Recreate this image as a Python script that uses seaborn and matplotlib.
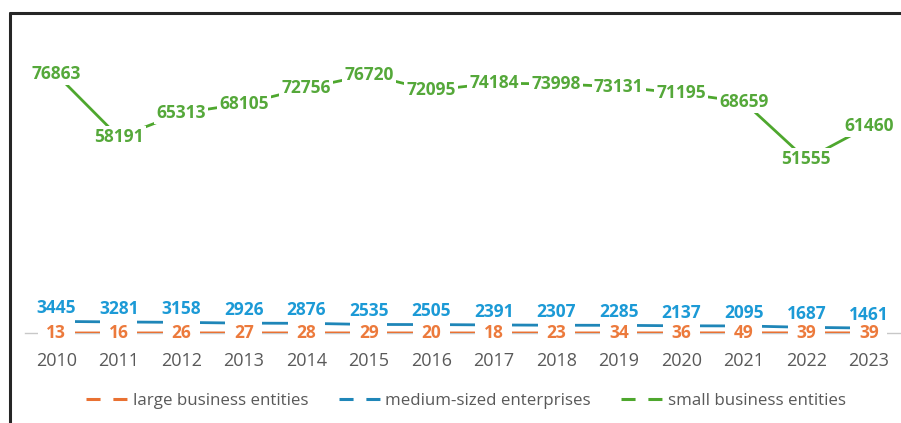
import matplotlib
matplotlib.use("Agg")
import matplotlib.pyplot as plt
from matplotlib.lines import Line2D
import seaborn as sns
import pandas as pd

years = [2010, 2011, 2012, 2013, 2014, 2015, 2016,
         2017, 2018, 2019, 2020, 2021, 2022, 2023]
large = [13, 16, 26, 27, 28, 29, 20, 18, 23, 34, 36, 49, 39, 39]
medium = [3445, 3281, 3158, 2926, 2876, 2535, 2505,
          2391, 2307, 2285, 2137, 2095, 1687, 1461]
small = [76863, 58191, 65313, 68105, 72756, 76720, 72095,
         74184, 73998, 73131, 71195, 68659, 51555, 61460]
series_names = ["large business entities", "medium-sized enterprises",
                "small business entities"]

line_colors = {"large business entities": "#E97132",
               "medium-sized enterprises": "#1F86B8",
               "small business entities": "#4EA72E"}
label_colors = {"large business entities": "#EC7A3C",
                "medium-sized enterprises": "#1C9AD6",
                "small business entities": "#55A83A"}

sns.set_theme(style="white")
plt.rcParams["font.family"] = ["Open Sans", "DejaVu Sans"]

df = pd.DataFrame({
    "year": years * 3,
    "value": large + medium + small,
    "series": [series_names[0]] * len(years)
              + [series_names[1]] * len(years)
              + [series_names[2]] * len(years),
})

fig = plt.figure(figsize=(9.01, 4.23), dpi=100)
ax = fig.add_axes([25 / 901, 1 - 333 / 423, 875 / 901, 303 / 423])

sns.lineplot(data=df, x="year", y="value", hue="series",
             hue_order=series_names, palette=line_colors,
             linewidth=2.0, legend=False, ax=ax, zorder=2)

ax.set_xlim(2009.5, 2023.5)
ax.set_ylim(0, 90000)
ax.set_xticks(years)
ax.set_xticklabels([str(y) for y in years])
ax.set_yticks([])
ax.set_xlabel("")
ax.set_ylabel("")
for side in ("top", "left", "right"):
    ax.spines[side].set_visible(False)
ax.spines["bottom"].set_color("#C8C8C8")
ax.spines["bottom"].set_linewidth(1.0)
ax.spines["bottom"].set_zorder(1)
ax.tick_params(axis="x", length=0, pad=14, labelsize=13, labelcolor="#595959")

# value labels: small and large centred on the points, medium above them
for x, v in zip(years, small):
    ax.text(x, v, f"{v}", ha="center", va="center", fontsize=12.5,
            fontweight="bold", color=label_colors[series_names[2]], zorder=5,
            bbox=dict(boxstyle="square,pad=0.12", fc="white", ec="none"))
for x, v in zip(years, large):
    ax.text(x, v, f"{v}", ha="center", va="center", fontsize=12.5,
            fontweight="bold", color=label_colors[series_names[0]], zorder=4,
            bbox=dict(boxstyle="square,pad=0.5", fc="white", ec="none"))
for x, v in zip(years, medium):
    ax.annotate(f"{v}", (x, v), xytext=(0, 9.5), textcoords="offset points",
                ha="center", va="center", fontsize=12.5, fontweight="bold",
                color=label_colors[series_names[1]], zorder=5)

handles = [Line2D([], [], color=line_colors[n], linewidth=2.2,
                  linestyle=(0, (4.6, 4.2))) for n in series_names]
leg = fig.legend(handles, series_names, loc="center",
                 bbox_to_anchor=(466 / 901, 22 / 423), ncol=3, frameon=False,
                 fontsize=12.2, handlelength=2.45, handletextpad=0.3,
                 columnspacing=1.8)
for t in leg.get_texts():
    t.set_color("#595959")

# outer frame on the left and top edges
fig.add_artist(Line2D([10 / 901, 10 / 901], [0, 1 - 13 / 423],
                      transform=fig.transFigure, color="#262626", linewidth=2.2))
fig.add_artist(Line2D([10 / 901, 1], [1 - 13 / 423, 1 - 13 / 423],
                      transform=fig.transFigure, color="#262626", linewidth=2.2))

fig.savefig("out.png", dpi=100, facecolor="white")
